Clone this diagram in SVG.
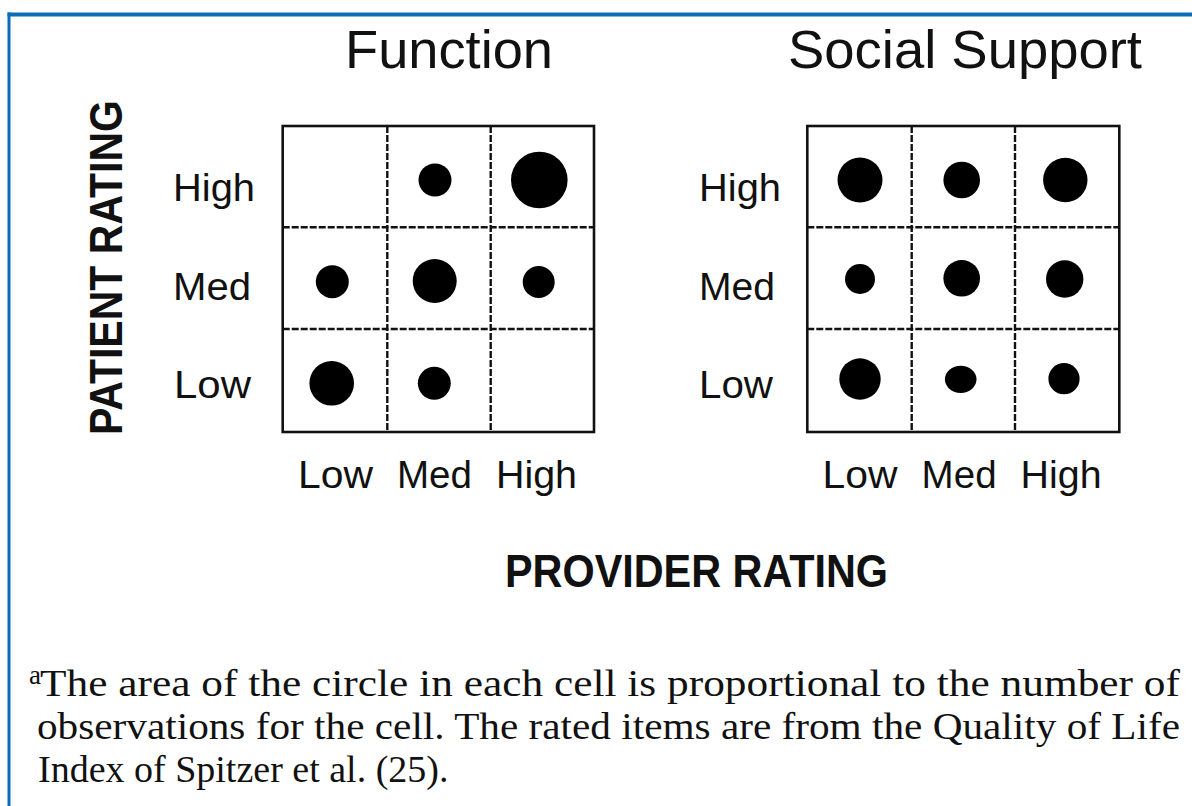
<svg xmlns="http://www.w3.org/2000/svg" width="1192" height="806" viewBox="0 0 1192 806">
<style>
.sans{font-family:"Liberation Sans",Arial,sans-serif;fill:#111}
.title{font-size:53px}
.lab{font-size:39px}
.axis{font-size:46px;font-weight:bold}
.note{font-family:"Liberation Serif","Times New Roman",serif;font-size:38px;fill:#111}
.outer{fill:none;stroke:#111;stroke-width:2.6}
.inner{fill:none;stroke:#111;stroke-width:2.4;stroke-dasharray:7 2}
.dot{fill:#000}
</style>
<rect width="1192" height="806" fill="#fff"/>
<g id="frame" fill="#0b6db7">
<rect x="7.5" y="12.5" width="1185" height="4"/>
<rect x="7.5" y="12.5" width="3" height="794"/>
</g>
<g id="connectors"/>
<g id="function-chart">
<text class="sans title" x="345" y="68" textLength="208" lengthAdjust="spacingAndGlyphs">Function</text>
<rect class="outer" x="282.7" y="126" width="311.3" height="306"/>
<path class="inner" d="M387.3 126V432M490.7 126V432M282.7 227.3H594M282.7 329H594"/>
<text class="sans lab" x="173" y="201" textLength="82" lengthAdjust="spacingAndGlyphs">High</text>
<text class="sans lab" x="173" y="300" textLength="78" lengthAdjust="spacingAndGlyphs">Med</text>
<text class="sans lab" x="174" y="398" textLength="77" lengthAdjust="spacingAndGlyphs">Low</text>
<text class="sans lab" x="298" y="488" textLength="75" lengthAdjust="spacingAndGlyphs">Low</text>
<text class="sans lab" x="397" y="488" textLength="75" lengthAdjust="spacingAndGlyphs">Med</text>
<text class="sans lab" x="496" y="488" textLength="81" lengthAdjust="spacingAndGlyphs">High</text>
<circle class="dot" cx="435" cy="180" r="16.5"/>
<circle class="dot" cx="539.3" cy="180" r="28.3"/>
<circle class="dot" cx="332.3" cy="281.7" r="16.5"/>
<circle class="dot" cx="434.7" cy="281" r="22"/>
<circle class="dot" cx="538.7" cy="282" r="16"/>
<circle class="dot" cx="331.7" cy="383.3" r="22.3"/>
<circle class="dot" cx="434.3" cy="383.3" r="16.5"/>
</g>
<g id="social-support-chart">
<text class="sans title" x="788" y="68" textLength="354" lengthAdjust="spacingAndGlyphs">Social Support</text>
<rect class="outer" x="807.3" y="126" width="312" height="306"/>
<path class="inner" d="M911.7 126V432M1015 126V432M807.3 227.3H1119.3M807.3 329H1119.3"/>
<text class="sans lab" x="699" y="201" textLength="82" lengthAdjust="spacingAndGlyphs">High</text>
<text class="sans lab" x="699" y="300" textLength="76" lengthAdjust="spacingAndGlyphs">Med</text>
<text class="sans lab" x="699" y="398" textLength="74" lengthAdjust="spacingAndGlyphs">Low</text>
<text class="sans lab" x="822.6" y="488" textLength="75" lengthAdjust="spacingAndGlyphs">Low</text>
<text class="sans lab" x="921.6" y="488" textLength="75" lengthAdjust="spacingAndGlyphs">Med</text>
<text class="sans lab" x="1020.6" y="488" textLength="81" lengthAdjust="spacingAndGlyphs">High</text>
<circle class="dot" cx="860" cy="180" r="22.5"/>
<circle class="dot" cx="961.7" cy="180" r="18.3"/>
<circle class="dot" cx="1065.3" cy="180" r="22.2"/>
<circle class="dot" cx="860" cy="279" r="15"/>
<circle class="dot" cx="961.7" cy="278.3" r="18.3"/>
<circle class="dot" cx="1064.7" cy="279" r="18.7"/>
<circle class="dot" cx="860" cy="379" r="20.7"/>
<ellipse class="dot" cx="960.7" cy="379.3" rx="15.8" ry="13.6"/>
<circle class="dot" cx="1064" cy="378.7" r="15.6"/>
</g>
<g id="patient-rating-axis">
<text class="sans axis" transform="translate(122 435) rotate(-90)" x="0" y="0" textLength="335" lengthAdjust="spacingAndGlyphs">PATIENT RATING</text>
</g>
<g id="provider-rating-axis">
<text class="sans axis" x="505" y="587" textLength="383" lengthAdjust="spacingAndGlyphs">PROVIDER RATING</text>
</g>
<g id="footnote">
<text class="note" x="29" y="684" style="font-size:27px">a</text>
<text class="note" x="40" y="696" textLength="1140" lengthAdjust="spacingAndGlyphs">The area of the circle in each cell is proportional to the number of</text>
<text class="note" x="37" y="739" textLength="1143" lengthAdjust="spacingAndGlyphs">observations for the cell. The rated items are from the Quality of Life</text>
<text class="note" x="38" y="782">Index of Spitzer et al. (25).</text>
</g>
</svg>
